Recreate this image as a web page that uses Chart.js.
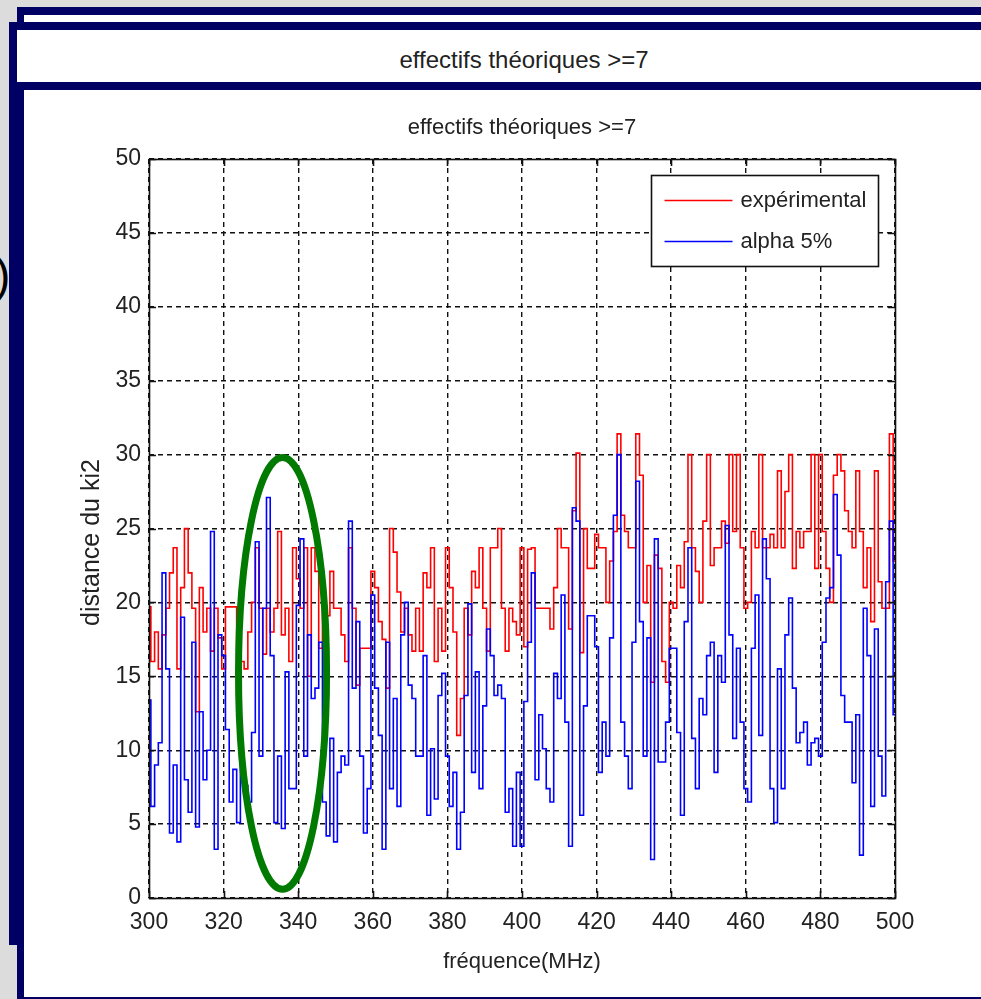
<!DOCTYPE html>
<html>
<head>
<meta charset="utf-8">
<script src="https://cdn.jsdelivr.net/npm/chart.js@4.4.0/dist/chart.umd.min.js"></script>
<style>
  body { margin: 0; width: 981px; height: 999px; background: #dcdcdc; position: relative; overflow: hidden;
         font-family: 'Liberation Sans', Arial, sans-serif; }
  .win { position: absolute; background: #fff; box-sizing: border-box; border: 0 solid #000064; }
  #w1 { left: 17px; top: 7px; right: 0; height: 80px; border-top-width: 8px; border-left-width: 7px; }
  #w2 { left: 9px; top: 22px; right: 0; height: 923px; border-top-width: 8px; border-left-width: 8px; }
  #w3 { left: 17px; top: 82px; right: 0; bottom: 0; border-top-width: 8px; border-left-width: 7px; border-bottom-width: 2px; }
  #paren { position: absolute; left: -5px; top: 252px; font-size: 46px; line-height: 46px; color: #000; }
  #wtitle { position: absolute; left: 324px; width: 400px; top: 46px; text-align: center;
            font-size: 24px; line-height: 28px; color: #222; }
  #grafica { position: absolute; left: 24px; top: 90px; }
</style>
</head>
<body>
<div id="paren">)</div>
<div class="win" id="w1"></div>
<div class="win" id="w2"></div>
<div id="wtitle">effectifs théoriques &gt;=7</div>
<div class="win" id="w3"></div>
<canvas id="grafica" width="957" height="903"></canvas>
<script>
// frequency grid: 300 -> 500 MHz, 1 MHz step
const freqStart = 300;
const freqStep = 1;

// distance du ki2, experimental (red)
const experimental = [
  19.7, 16.0, 18.0, 15.5, 17.8, 19.6, 22.0, 23.7, 15.5, 21.0,
  25.0, 22.0, 19.6, 12.6, 21.0, 18.0, 19.6, 16.7, 19.6, 17.6,
  15.5, 19.7, 19.7, 19.7, 17.0, 16.0, 15.5, 18.0, 20.0, 23.7,
  19.6, 16.5, 19.6, 18.0, 19.6, 24.8, 17.8, 19.6, 16.0, 23.7,
  21.6, 19.6, 23.7, 15.0, 23.7, 22.1, 16.9, 20.5, 19.1, 22.1,
  19.6, 19.6, 17.8, 16.0, 23.7, 19.6, 14.4, 16.9, 16.9, 16.9,
  22.1, 21.0, 18.7, 17.5, 14.2, 25.0, 23.4, 20.7, 18.0, 19.6,
  17.8, 16.7, 19.6, 16.7, 22.0, 21.0, 23.7, 16.0, 19.6, 16.7,
  23.7, 21.0, 18.0, 11.0, 13.5, 19.6, 17.8, 22.1, 21.0, 23.7,
  19.6, 16.7, 23.7, 23.7, 25.0, 19.6, 16.7, 19.6, 18.7, 17.8,
  23.7, 17.0, 23.6, 23.7, 19.6, 19.6, 19.6, 19.6, 18.2, 21.0,
  25.0, 23.7, 23.7, 18.2, 26.2, 30.1, 16.6, 25.0, 22.3, 22.3,
  24.6, 23.7, 23.7, 20.0, 22.8, 24.8, 31.4, 25.9, 24.8, 23.7,
  23.7, 31.4, 28.6, 20.0, 22.5, 14.6, 23.2, 22.3, 16.0, 14.6,
  20.0, 19.6, 22.5, 21.0, 24.1, 30.0, 23.7, 22.1, 20.0, 25.5,
  30.0, 22.5, 23.7, 23.7, 25.5, 24.0, 30.0, 24.8, 30.0, 23.7,
  19.6, 20.0, 24.8, 23.7, 30.0, 23.7, 23.7, 24.6, 23.7, 28.9,
  23.7, 27.5, 30.0, 22.3, 24.8, 23.7, 24.8, 24.8, 30.0, 22.3,
  30.0, 24.8, 22.3, 20.0, 28.6, 30.0, 28.9, 26.2, 24.8, 23.7,
  28.9, 24.8, 21.0, 23.7, 18.7, 28.9, 21.4, 19.6, 19.6, 31.4,
  22.8
];

// threshold alpha 5% (blue)
const alpha5 = [
  13.4, 6.2, 9.0, 10.5, 22.0, 15.5, 4.4, 9.0, 3.8, 19.0,
  8.0, 5.8, 17.3, 4.8, 12.6, 8.0, 10.0, 24.8, 3.3, 17.8,
  16.4, 11.4, 6.5, 8.7, 5.1, 9.6, 7.6, 6.5, 11.2, 24.1,
  9.6, 19.6, 27.1, 16.4, 5.1, 9.6, 4.7, 15.3, 7.4, 7.4,
  19.8, 24.3, 9.6, 17.8, 13.5, 14.2, 17.3, 6.5, 4.2, 10.8,
  3.8, 8.5, 9.6, 9.0, 25.5, 14.2, 18.7, 9.6, 4.4, 7.4,
  20.5, 14.2, 11.0, 3.3, 17.3, 7.4, 13.5, 6.2, 17.8, 20.0,
  14.4, 13.5, 9.6, 9.6, 16.4, 5.6, 10.1, 6.7, 13.7, 15.2,
  9.6, 6.2, 8.5, 3.3, 5.8, 13.7, 19.9, 8.5, 15.3, 7.4,
  13.0, 18.2, 16.4, 13.7, 14.4, 13.5, 5.8, 7.4, 3.5, 8.5,
  3.5, 13.3, 17.3, 22.0, 8.0, 12.4, 10.1, 7.4, 6.5, 15.2,
  13.5, 20.5, 11.9, 3.5, 26.4, 25.5, 5.6, 13.0, 19.1, 19.1,
  17.0, 8.5, 11.9, 9.6, 17.6, 25.9, 30.0, 11.9, 9.6, 7.4,
  17.3, 28.2, 18.7, 9.6, 17.6, 2.6, 24.3, 9.2, 9.2, 11.9,
  16.9, 16.9, 11.2, 5.6, 18.7, 23.7, 10.8, 7.4, 13.5, 12.4,
  16.4, 17.3, 8.5, 16.4, 14.6, 25.2, 17.8, 10.8, 16.9, 11.9,
  7.4, 6.5, 16.9, 20.5, 11.0, 24.3, 21.6, 7.4, 5.1, 15.5,
  7.4, 17.8, 20.3, 14.2, 10.5, 11.2, 11.9, 9.0, 10.5, 10.8,
  9.6, 17.3, 20.3, 21.0, 27.3, 23.2, 13.7, 11.9, 11.9, 7.8,
  12.4, 2.9, 19.6, 16.4, 6.2, 18.2, 9.6, 6.9, 21.4, 25.5,
  12.4
];

const xTicks = [300, 320, 340, 360, 380, 400, 420, 440, 460, 480, 500];
const yTicks = [0, 5, 10, 15, 20, 25, 30, 35, 40, 45, 50];

const chartTitle = 'effectifs théoriques >=7';
const yTitle = 'distance du ki2';

// green ellipse drawn over the plot (centre / radii in data units)
const ellipseCenter = [335.8, 15.2];
const ellipseRadii = [11.8, 14.6];

const toPoints = (vals) => vals.map((v, i) => ({ x: freqStart + i * freqStep, y: v }));

const ctx = document.getElementById('grafica');

const matlabBox = {
  id: 'matlabBox',
  afterDatasetsDraw(chart) {
    const c = chart.ctx;
    const a = chart.chartArea;
    const xs = chart.scales.x, ys = chart.scales.y;

    // ellipse
    const cx = xs.getPixelForValue(ellipseCenter[0]);
    const cy = ys.getPixelForValue(ellipseCenter[1]);
    const rx = Math.abs(xs.getPixelForValue(ellipseCenter[0] + ellipseRadii[0]) - cx);
    const ry = Math.abs(ys.getPixelForValue(ellipseCenter[1] + ellipseRadii[1]) - cy);
    c.save();
    c.strokeStyle = '#007a00';
    c.lineWidth = 7;
    c.beginPath();
    c.ellipse(cx, cy, rx, ry, 0, 0, Math.PI * 2);
    c.stroke();
    c.restore();

    // axes box + inner ticks
    c.save();
    c.strokeStyle = '#111';
    c.lineWidth = 1.6;
    c.strokeRect(Math.round(a.left) + 0.5, Math.round(a.top) + 0.5, Math.round(a.width), Math.round(a.height));
    c.beginPath();
    xTicks.forEach(t => {
      const px = Math.round(xs.getPixelForValue(t)) + 0.5;
      c.moveTo(px, a.top); c.lineTo(px, a.top + 7);
      c.moveTo(px, a.bottom); c.lineTo(px, a.bottom - 7);
    });
    yTicks.forEach(t => {
      const py = Math.round(ys.getPixelForValue(t)) + 0.5;
      c.moveTo(a.left, py); c.lineTo(a.left + 7, py);
      c.moveTo(a.right, py); c.lineTo(a.right - 7, py);
    });
    c.stroke();

    // legend
    const bw = 227, bh = 91;
    const bx = Math.round(a.right - 17 - bw) + 0.5;
    const by = Math.round(a.top + 16) + 0.5;
    c.fillStyle = '#fff';
    c.fillRect(bx, by, bw, bh);
    c.strokeRect(bx, by, bw, bh);
    c.font = '22px "Liberation Sans", Arial, sans-serif';
    c.textBaseline = 'middle';
    chart.data.datasets.forEach((ds, i) => {
      const ly = Math.round(by + 24 + i * 41) + 0.5;
      c.strokeStyle = ds.borderColor;
      c.lineWidth = 1.5;
      c.beginPath();
      c.moveTo(bx + 13, ly); c.lineTo(bx + 81, ly);
      c.stroke();
      c.fillStyle = '#222';
      c.fillText(ds.label, bx + 89, ly);
    });

    // title centred over the axes, y label
    c.fillStyle = '#222';
    c.textAlign = 'center';
    c.textBaseline = 'middle';
    c.font = '22px "Liberation Sans", Arial, sans-serif';
    c.fillText(chartTitle, (a.left + a.right) / 2, a.top - 31);
    c.translate(a.left - 57, (a.top + a.bottom) / 2 + 14);
    c.rotate(-Math.PI / 2);
    c.font = '25px "Liberation Sans", Arial, sans-serif';
    c.fillText(yTitle, 0, 0);
    c.restore();
  }
};

new Chart(ctx, {
  type: 'line',
  data: {
    datasets: [{
      label: 'expérimental',
      data: toPoints(experimental),
      borderColor: '#ff0000',
      borderWidth: 1.6,
      pointRadius: 0,
      stepped: 'middle',
      order: 1
    }, {
      label: 'alpha 5%',
      data: toPoints(alpha5),
      borderColor: '#0000ff',
      borderWidth: 1.6,
      pointRadius: 0,
      stepped: 'middle',
      order: 0
    }]
  },
  options: {
    responsive: false,
    animation: false,
    devicePixelRatio: 1,
    layout: { padding: { left: 0, top: 69, right: 86, bottom: 0 } },
    plugins: {
      legend: { display: false },
      tooltip: { enabled: false },
      title: { display: false }
    },
    scales: {
      x: {
        type: 'linear',
        min: 300,
        max: 500,
        afterBuildTicks: (s) => { s.ticks = xTicks.map(v => ({ value: v })); },
        afterFit: (s) => { s.height = 95; },
        grid: { color: '#111', lineWidth: 1.4, drawTicks: false },
        border: { display: false, dash: [5, 4] },
        ticks: {
          color: '#222',
          padding: 11,
          maxRotation: 0,
          font: { family: "'Liberation Sans', Arial, sans-serif", size: 23 }
        },
        title: {
          display: true,
          text: 'fréquence(MHz)',
          color: '#222',
          font: { family: "'Liberation Sans', Arial, sans-serif", size: 22 },
          padding: { top: 0, bottom: 18 }
        }
      },
      y: {
        min: 0,
        max: 50,
        afterBuildTicks: (s) => { s.ticks = yTicks.map(v => ({ value: v })); },
        afterFit: (s) => { s.width = 125; },
        grid: { color: '#111', lineWidth: 1.4, drawTicks: false },
        border: { display: false, dash: [5, 4] },
        ticks: {
          color: '#222',
          padding: 8,
          font: { family: "'Liberation Sans', Arial, sans-serif", size: 23 }
        }
      }
    }
  },
  plugins: [matlabBox]
});
</script>
</body>
</html>
